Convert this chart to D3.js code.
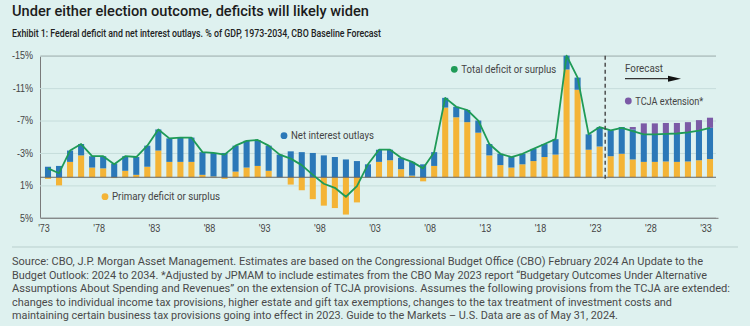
<!DOCTYPE html>
<html>
<head>
<meta charset="utf-8">
<script src="https://cdn.jsdelivr.net/npm/d3@7"></script>
<style>
  body { margin: 0; background: #def1ef; }
  svg { display: block; font-family: Roboto, 'Liberation Sans', sans-serif; }
</style>
</head>
<body>
<svg id="chart"></svg>
<script>
// fiscal years shown on the chart
const years = d3.range(1973, 2034)

// % of GDP, deficit positive, surplus negative
const primary = [
  -0.2, -1.0, 1.9, 2.7, 1.2, 1.1, -0.1, 0.8, 0.3, 1.3,
  3.3, 1.9, 1.9, 1.9, 0.3, 0.1, -0.2, 0.7, 1.2, 1.4,
  0.8, 0.0, -0.9, -1.6, -2.7, -3.5, -3.8, -4.6, -3.1, 0.0,
  1.9, 2.1, 1.0, 0.2, -0.5, 1.4, 8.6, 7.4, 6.8, 5.5,
  2.7, 1.5, 1.2, 1.6, 2.0, 2.5, 2.8, 13.3, 10.8, 3.4,
  3.8, 2.6, 2.9, 2.2, 1.9, 1.9, 1.95, 1.9, 1.95, 2.1,
  2.25
]
const interest = [
  1.3, 1.4, 1.4, 1.4, 1.4, 1.5, 1.7, 1.8, 2.2, 2.6,
  2.6, 2.9, 3.0, 3.0, 2.8, 2.9, 3.0, 3.2, 3.3, 3.2,
  3.1, 2.8, 3.2, 3.1, 3.0, 2.7, 2.5, 2.2, 2.0, 1.6,
  1.5, 1.3, 1.4, 1.7, 1.6, 1.7, 1.2, 1.3, 1.5, 1.5,
  1.4, 1.4, 1.3, 1.3, 1.5, 1.6, 1.9, 1.7, 1.5, 1.9,
  2.4, 3.2, 3.3, 3.7, 3.4, 3.4, 3.45, 3.55, 3.6, 3.65,
  3.85
]
const total = [
  1.1, 0.5, 3.3, 4.1, 2.6, 2.6, 1.6, 2.6, 2.5, 3.9,
  5.9, 4.8, 4.9, 4.9, 3.1, 3.0, 2.8, 3.9, 4.5, 4.6,
  3.9, 2.8, 2.3, 1.5, 0.3, -0.8, -1.3, -2.4, -1.1, 1.6,
  3.4, 3.4, 2.4, 1.9, 1.1, 3.1, 9.8, 8.7, 8.3, 7.0,
  4.1, 2.9, 2.5, 2.9, 3.5, 4.1, 4.7, 15.0, 12.3, 5.3,
  6.2, 5.8, 6.1, 5.7, 5.3, 5.3, 5.35, 5.4, 5.55, 5.75,
  6.1
]
// TCJA extension, only in the forecast years
const tcjaYears = [2026, 2027, 2028, 2029, 2030, 2031, 2032, 2033]
const tcja = [0.3, 1.35, 1.35, 1.3, 1.25, 1.25, 1.3, 1.25]

const forecastStart = 2024
const labelYears = [1973, 1978, 1983, 1988, 1993, 1998, 2003, 2008, 2013, 2018, 2023, 2028, 2033]
const yTicks = [-15, -11, -7, -3, 1, 5]

const footer = [
  'Source: CBO, J.P. Morgan Asset Management. Estimates are based on the Congressional Budget Office (CBO) February 2024 An Update to the',
  'Budget Outlook: 2024 to 2034. *Adjusted by JPMAM to include estimates from the CBO May 2023 report \u201cBudgetary Outcomes Under Alternative',
  'Assumptions About Spending and Revenues\u201d on the extension of TCJA provisions. Assumes the following provisions from the TCJA are extended:',
  'changes to individual income tax provisions, higher estate and gift tax exemptions, changes to the tax treatment of investment costs and',
  'maintaining certain business tax provisions going into effect in 2023. Guide to the Markets \u2013 U.S. Data are as of May 31, 2024.'
]
const footerWidths = [691, 695, 718, 660, 606]

const width = 750
const height = 326
const colors = {orange: '#f4b436', blue: '#2b78b8', purple: '#7b5aa6', green: '#1f9b57'}

const svg = d3.select('#chart')
  .attr('width', width)
  .attr('height', height)

// squeeze a text to the width it has in the original
function fit(sel, w) {
  sel.attr('textLength', w).attr('lengthAdjust', 'spacingAndGlyphs')
}

const x = d3.scaleBand()
  .domain(years)
  .range([40, 718])
  .padding(0.45)
const cx = yr => x(yr) + x.bandwidth() / 2

// axis is in balance terms: deficits go up as negative numbers
const y = d3.scaleLinear()
  .domain([5, -15])
  .range([217.8, 55.7])

// titles
svg.append('text')
  .attr('x', 12).attr('y', 16)
  .attr('font-size', 14.5).attr('font-weight', 500).attr('fill', '#1c1c1c')
  .text('Under either election outcome, deficits will likely widen')
  .call(fit, 357)
svg.append('text')
  .attr('x', 12).attr('y', 36.5)
  .attr('font-size', 10.5).attr('font-weight', 500).attr('fill', '#222')
  .text('Exhibit 1: Federal deficit and net interest outlays. % of GDP, 1973-2034, CBO Baseline Forecast')
  .call(fit, 369)

// y axis with gridlines
const yAxis = svg.append('g')
  .attr('transform', 'translate(40,0)')
  .call(d3.axisLeft(y).tickValues(yTicks).tickSize(-676).tickPadding(7).tickFormat(d => `${d}%`))
yAxis.select('.domain').attr('stroke', '#7a7a7a')
yAxis.selectAll('.tick line').attr('stroke', '#c6dddb')
yAxis.selectAll('.tick text')
  .attr('font-size', 10).attr('fill', '#444').attr('font-family', null)
  .each(function() { d3.select(this).call(fit, this.getComputedTextLength() * 0.9) })

const rows = years.map((yr, i) => {
  let k = tcjaYears.indexOf(yr)
  return {year: yr, p: primary[i], n: interest[i], e: k < 0 ? 0 : tcja[k], t: total[i]}
})

const bars = svg.append('g')

// primary deficit or surplus, from zero
bars.selectAll('rect.primary')
  .data(rows)
  .join('rect')
    .attr('class', 'primary')
    .attr('x', d => x(d.year))
    .attr('width', x.bandwidth())
    .attr('y', d => y(-Math.max(d.p, 0)))
    .attr('height', d => Math.abs(y(-d.p) - y(0)))
    .attr('fill', colors.orange)

// net interest stacked above any primary deficit
bars.selectAll('rect.interest')
  .data(rows)
  .join('rect')
    .attr('class', 'interest')
    .attr('x', d => x(d.year))
    .attr('width', x.bandwidth())
    .attr('y', d => y(-(Math.max(d.p, 0) + d.n)))
    .attr('height', d => y(-Math.max(d.p, 0)) - y(-(Math.max(d.p, 0) + d.n)))
    .attr('fill', colors.blue)

bars.selectAll('rect.tcja')
  .data(rows.filter(d => d.e > 0))
  .join('rect')
    .attr('class', 'tcja')
    .attr('x', d => x(d.year))
    .attr('width', x.bandwidth())
    .attr('y', d => y(-(Math.max(d.p, 0) + d.n + d.e)))
    .attr('height', d => y(-(Math.max(d.p, 0) + d.n)) - y(-(Math.max(d.p, 0) + d.n + d.e)))
    .attr('fill', colors.purple)

// zero line
svg.append('line')
  .attr('x1', 40).attr('x2', 716)
  .attr('y1', y(0)).attr('y2', y(0))
  .attr('stroke', '#666').attr('stroke-width', 1)

// total deficit line
svg.append('path')
  .datum(rows)
  .attr('fill', 'none')
  .attr('stroke', colors.green)
  .attr('stroke-width', 1.8)
  .attr('stroke-linejoin', 'round')
  .attr('d', d3.line().x(d => cx(d.year)).y(d => y(-d.t)))

// forecast divider
let fx = x(forecastStart) - (x.step() - x.bandwidth()) / 2
svg.append('line')
  .attr('x1', fx).attr('x2', fx)
  .attr('y1', y(-15)).attr('y2', y(0.5))
  .attr('stroke', '#444').attr('stroke-width', 1.4)
  .attr('stroke-dasharray', '4,3')

// x axis
const xAxis = svg.append('g')
  .attr('transform', `translate(0,${y(5)})`)
  .call(d3.axisBottom(x).tickValues(labelYears).tickSize(0).tickPadding(7)
    .tickFormat(d => `'${String(d).slice(2)}`))
xAxis.select('.domain').attr('stroke', '#7a7a7a')
xAxis.selectAll('.tick text')
  .attr('x', -4).attr('font-size', 10).attr('fill', '#444').attr('font-family', null)
  .each(function() { d3.select(this).call(fit, this.getComputedTextLength() * 0.9) })

// legend labels placed inside the plot
const legend = [
  {label: 'Primary deficit or surplus', color: colors.orange, x: 105, y: 196.7, w: 108},
  {label: 'Net interest outlays', color: colors.blue, x: 284, y: 135.7, w: 83},
  {label: 'Total deficit or surplus', color: colors.green, x: 454.3, y: 69.3, w: 95},
  {label: 'TCJA extension*', color: colors.purple, x: 628.3, y: 101, w: 68}
]
const lg = svg.append('g')
  .selectAll('g')
  .data(legend)
  .join('g')
    .attr('transform', d => `translate(${d.x},${d.y})`)
lg.append('circle')
  .attr('r', 3.4)
  .attr('fill', d => d.color)
lg.append('text')
  .attr('x', 7).attr('dy', '0.35em')
  .attr('font-size', 10.5).attr('fill', '#444')
  .text(d => d.label)
  .each(function(d) { d3.select(this).call(fit, d.w) })

// forecast arrow
svg.append('text')
  .attr('x', 625).attr('y', 72)
  .attr('font-size', 10.5).attr('fill', '#444')
  .text('Forecast')
  .call(fit, 38)
svg.append('line')
  .attr('x1', 625).attr('x2', 672)
  .attr('y1', 78.7).attr('y2', 78.7)
  .attr('stroke', '#333').attr('stroke-width', 1.2)
svg.append('path')
  .attr('d', 'M668,75.7 L681,78.7 L668,81.7 Z')
  .attr('fill', '#111')

// footer
svg.append('line')
  .attr('x1', 12).attr('x2', 738)
  .attr('y1', 247).attr('y2', 247)
  .attr('stroke', '#b9cfcd')
svg.append('g')
  .selectAll('text')
  .data(footer)
  .join('text')
    .attr('x', 12)
    .attr('y', (d, i) => 265 + i * 13.5)
    .attr('font-size', 10.5).attr('fill', '#4a4a4a')
    .text(d => d)
    .each(function(d, i) { d3.select(this).call(fit, footerWidths[i]) })
</script>
</body>
</html>
